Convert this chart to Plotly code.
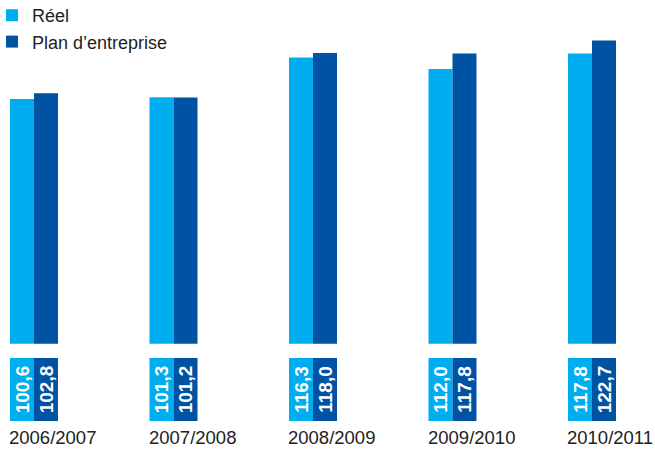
import plotly.graph_objects as go

categories = ["2006/2007", "2007/2008", "2008/2009", "2009/2010", "2010/2011"]
reel = [100.6, 101.3, 116.3, 112.0, 117.8]
plan = [102.8, 101.2, 118.0, 117.8, 122.7]
series_names = ["Réel", "Plan d’entreprise"]
colors = ["#00aeef", "#0052a3"]

W, H = 655, 449
xpos = list(range(len(categories)))
FONT = "Liberation Sans, Arial, sans-serif"

def fmt(v):
    return f"{v:.1f}".replace(".", ",")

fig = go.Figure()

# main bars
for name, vals, col in zip(series_names, [reel, plan], colors):
    fig.add_trace(go.Bar(x=xpos, y=vals, name=name, marker=dict(color=col, line=dict(width=0)),
                         xaxis="x", yaxis="y", offsetgroup=name, hoverinfo="skip"))

# value boxes below
for name, vals, col in zip(series_names, [reel, plan], colors):
    fig.add_trace(go.Bar(x=xpos, y=[1] * len(vals), name=name, showlegend=False,
                         marker=dict(color=col, line=dict(width=0)),
                         text=[fmt(v) for v in vals], textposition="inside",
                         insidetextanchor="middle", textangle=-90, constraintext="none",
                         textfont=dict(family=FONT, size=19, color="white"),
                         texttemplate="<b>%{text}</b>",
                         xaxis="x", yaxis="y2", offsetgroup=name, hoverinfo="skip"))

px_per_unit = 139.5
x0 = -34 / px_per_unit
x1 = x0 + W / px_per_unit

base_px = 343.7
fig.update_layout(
    width=W, height=H,
    margin=dict(l=0, r=0, t=0, b=0, autoexpand=False),
    paper_bgcolor="white", plot_bgcolor="white",
    barmode="group", bargap=1 - 48 / px_per_unit, bargroupgap=0,
    font=dict(family=FONT, size=18, color="#222222"),
    xaxis=dict(range=[x0, x1], visible=False, domain=[0, 1]),
    yaxis=dict(range=[8.3, 138.0], visible=False, domain=[1 - base_px / H, 1]),
    yaxis2=dict(range=[0, 1], visible=False, domain=[1 - 421 / H, 1 - 358 / H]),
    legend=dict(x=-8 / W, y=1 + 3 / H, xanchor="left", yanchor="top",
                font=dict(size=18, family=FONT, color="#222222"),
                bgcolor="rgba(0,0,0,0)", tracegroupgap=0),
    showlegend=True,
)

for i, c in enumerate(categories):
    fig.add_annotation(x=i - 24 / px_per_unit, y=0, xref="x", yref="paper",
                       text=c, showarrow=False, xanchor="left", yanchor="bottom",
                       xshift=-2, borderpad=0,
                       font=dict(size=18.5, family=FONT, color="#222222"))

fig.write_html("out.html")
